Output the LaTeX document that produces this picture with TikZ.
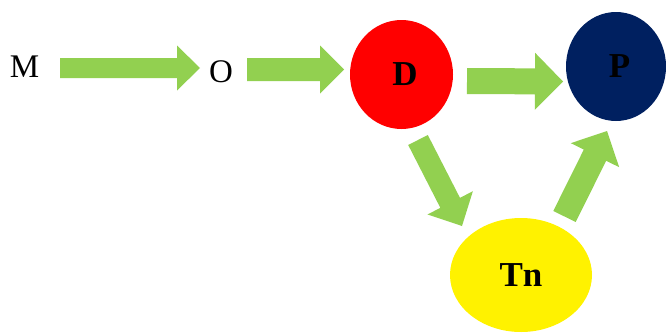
\documentclass[tikz,border=0pt]{standalone}
\usepackage{fontspec}
\setmainfont{Liberation Serif}
\usetikzlibrary{calc,shapes.geometric}
\definecolor{arrowgreen}{HTML}{92D050}
\definecolor{navy}{HTML}{002060}
\tikzset{
  blob/.style={ellipse, inner sep=0pt, font=\fontsize{35}{37}\selectfont\bfseries, text=black},
  plain/.style={inner sep=0pt, anchor=base, font=\fontsize{33}{35}\selectfont},
}
% block arrow: start, tip, shaft width, head width, head length
\newcommand{\blockarrow}[5]{%
  \fill[arrowgreen]
    ($(#1)!#3/2!90:(#2)$) --
    ($($(#2)!#5!(#1)$)!#3/2!90:(#2)$) --
    ($($(#2)!#5!(#1)$)!#4/2!90:(#2)$) --
    (#2) --
    ($($(#2)!#5!(#1)$)!#4/2!-90:(#2)$) --
    ($($(#2)!#5!(#1)$)!#3/2!-90:(#2)$) --
    ($(#1)!#3/2!-90:(#2)$) -- cycle;}
\begin{document}
\begin{tikzpicture}[x=1pt,y=-1pt]
\useasboundingbox (0,0) rectangle (666,332);
% nodes
\node[plain] (M) at (24.5,77) {M};
\node[plain] (O) at (221,82) {O};
\node[blob, fill=red, minimum width=103pt, minimum height=109pt] (D) at (401.5,74.5) {\hspace*{7pt}D};
\node[blob, fill=navy, minimum width=100pt, minimum height=109pt] (P) at (616,66.5) {\hspace*{7pt}P};
\node[blob, fill=yellow, minimum width=142pt, minimum height=114pt] (Tn) at (521,275) {Tn};
% connector ends
\coordinate (a1s) at (60,68);   \coordinate (a1e) at (200,68);
\coordinate (a2s) at (247,69.5); \coordinate (a2e) at (344,69.5);
\coordinate (a3s) at (467,81);  \coordinate (a3e) at (563,81.5);
\coordinate (a4s) at (418,140); \coordinate (a4e) at (462,226);
\coordinate (a5s) at (564.5,216.5); \coordinate (a5e) at (607,131);
% connectors
\blockarrow{a1s}{a1e}{20pt}{45pt}{23pt}
\blockarrow{a2s}{a2e}{23pt}{48pt}{24pt}
\blockarrow{a3s}{a3e}{26pt}{57pt}{28pt}
\blockarrow{a4s}{a4e}{22pt}{51pt}{26pt}
\blockarrow{a5s}{a5e}{25pt}{54pt}{27pt}
\end{tikzpicture}
\end{document}
